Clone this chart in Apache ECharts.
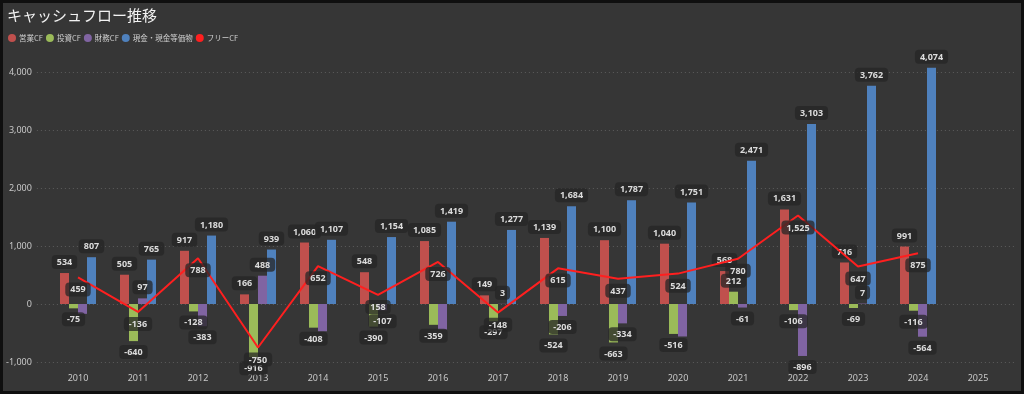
<!DOCTYPE html>
<html><head><meta charset="utf-8">
<script src="https://cdn.jsdelivr.net/npm/echarts@6/dist/echarts.min.js"></script>
<style>
html,body{margin:0;padding:0;background:#0f0f0f;width:1024px;height:394px;overflow:hidden;}
#c{position:absolute;left:3px;top:3px;width:1018px;height:388px;}
</style></head>
<body><div id="c"></div>
<script>
const years = ['2010','2011','2012','2013','2014','2015','2016','2017','2018','2019','2020','2021','2022','2023','2024','2025'];
const operatingCF = [534, 505, 917, 166, 1060, 548, 1085, 149, 1139, 1100, 1040, 568, 1631, 716, 991, null];
const investingCF = [-75, -640, -128, -916, -408, -390, -359, -297, -524, -663, -516, 212, -106, -69, -116, null];
const financingCF = [-170, 97, -383, 488, -470, -107, -440, 3, -206, -334, -560, -61, -896, 7, -564, null];
const cashEq = [807, 765, 1180, 939, 1107, 1154, 1419, 1277, 1684, 1787, 1751, 2471, 3103, 3762, 4074, null];
const freeCF = [459, -136, 788, -750, 652, 158, 726, -148, 615, 437, 524, 780, 1525, 647, 875, null];
const yTicks = [-1000, 0, 1000, 2000, 3000, 4000];
// labels not visible in the reference (estimated values)
const hiddenFinancingYears = ['2010', '2014', '2016', '2020'];

const fmt = v => Number(v).toLocaleString('en-US');
const labelBox = {
  show: true, formatter: p => fmt(p.value), color: '#dcdcdc', fontSize: 9, fontWeight: 'bold',
  fontFamily: 'Noto Sans', backgroundColor: 'rgba(38,38,38,0.75)', borderRadius: 4,
  padding: [3, 5, 2, 5], distance: 4
};
function mk(vals, hiddenYears) {
  return vals.map((v, i) => v == null ? null : {
    value: v,
    label: { position: v < 0 ? 'bottom' : 'top', show: !(hiddenYears || []).includes(years[i]) }
  });
}
const chart = echarts.init(document.getElementById('c'));
const barBase = { type: 'bar', xAxisIndex: 1, yAxisIndex: 1, barWidth: 9, barGap: '0%', clip: false, label: labelBox };
chart.setOption({
  backgroundColor: '#363636',
  animation: false,
  title: { text: 'キャッシュフロー推移', left: -1, top: 0, textStyle: { color: '#f2f2f2', fontSize: 15, fontWeight: 'normal', fontFamily: 'Noto Sans CJK JP' } },
  legend: {
    left: 0, top: 26, icon: 'circle', itemWidth: 8, itemHeight: 8, itemGap: 3,
    textStyle: { color: '#cfcfcf', fontSize: 7.5, fontFamily: 'Noto Sans CJK JP', padding: [0, 0, 0, -2] },
    data: ['営業CF', '投資CF', '財務CF', '現金・現金等価物', 'フリーCF']
  },
  grid: [
    { left: 32, right: 7, top: 69, bottom: 29 },
    { left: 45, right: 13, top: 69, bottom: 29 }
  ],
  xAxis: [
    { type: 'category', gridIndex: 0, data: years, show: false },
    { type: 'category', gridIndex: 1, data: years,
      axisLine: { show: false }, axisTick: { show: false },
      axisLabel: { color: '#c8c8c8', fontSize: 9, margin: 12, fontFamily: 'Noto Sans' } }
  ],
  yAxis: [
    { type: 'value', gridIndex: 0, min: yTicks[0], max: yTicks[yTicks.length - 1], interval: 1000,
      axisLine: { show: false }, axisTick: { show: false },
      axisLabel: { color: '#c8c8c8', fontSize: 9, margin: 5, formatter: v => fmt(v), fontFamily: 'Noto Sans' },
      splitLine: { lineStyle: { color: '#5c5c5c', type: [1, 3], width: 1 } } },
    { type: 'value', gridIndex: 1, min: yTicks[0], max: yTicks[yTicks.length - 1], interval: 1000, show: false,
      splitLine: { show: false } }
  ],
  series: [
    Object.assign({}, barBase, { name: '営業CF', data: mk(operatingCF), itemStyle: { color: '#c0504d' } }),
    Object.assign({}, barBase, { name: '投資CF', data: mk(investingCF), itemStyle: { color: '#9bbb59' } }),
    Object.assign({}, barBase, { name: '財務CF', data: mk(financingCF, hiddenFinancingYears), itemStyle: { color: '#8064a2' } }),
    Object.assign({}, barBase, { name: '現金・現金等価物', data: mk(cashEq), itemStyle: { color: '#4f81bd' } }),
    { name: 'フリーCF', type: 'line', xAxisIndex: 1, yAxisIndex: 1, data: freeCF, z: 5,
      symbol: 'circle', symbolSize: 0.1, showSymbol: true,
      lineStyle: { color: '#ff1f1f', width: 2 }, itemStyle: { color: '#ff1f1f' },
      label: Object.assign({}, labelBox, { position: 'bottom', distance: 5 }) }
  ]
});
</script></body></html>
